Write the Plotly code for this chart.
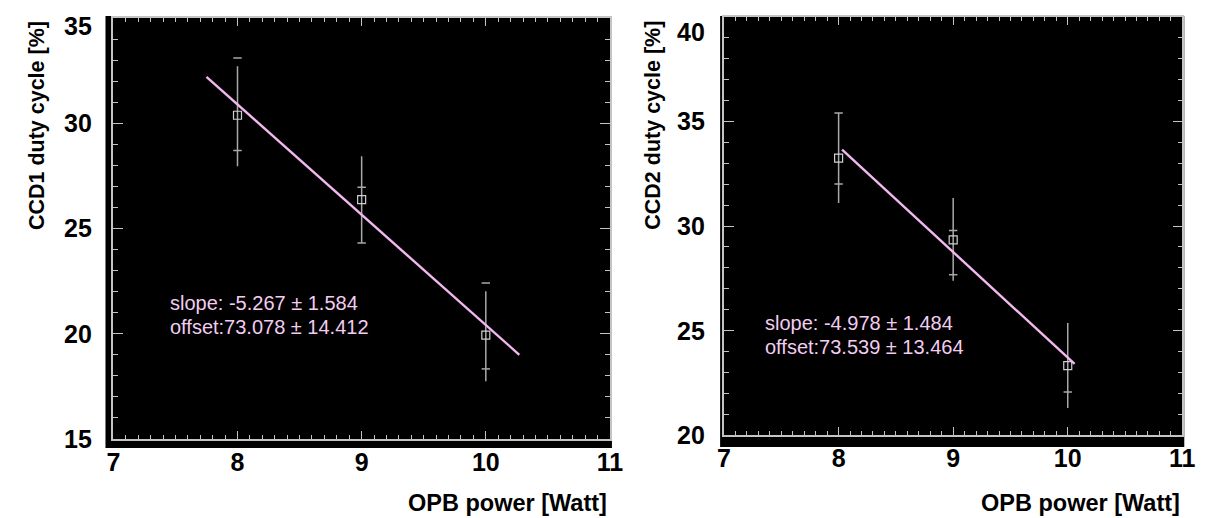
import plotly.graph_objects as go

# ---------------- data ----------------
power = [8, 9, 10]

ccd1 = [30.38, 26.37, 19.93]
ccd1_err_hi = [32.71, 28.43, 22.02]
ccd1_err_lo = [27.96, 24.31, 17.74]
ccd1_mark_x = [8, 8, 9, 9, 10, 10]
ccd1_mark_y = [33.10, 28.70, 26.96, 24.31, 22.41, 18.33]
fit1_x = [7.75, 10.27]
fit1_y = [32.2, 19.0]
fit1_text = ["slope: -5.267 \u00b1 1.584", "offset:73.078 \u00b1 14.412"]

ccd2 = [33.25, 29.34, 23.32]
ccd2_err_hi = [35.41, 31.34, 25.36]
ccd2_err_lo = [31.10, 27.38, 21.29]
ccd2_mark_x = [8, 8, 9, 9, 10]
ccd2_mark_y = [35.41, 32.01, 29.78, 27.67, 22.06]
fit2_x = [8.03, 10.06]
fit2_y = [33.65, 23.4]
fit2_text = ["slope: -4.978 \u00b1 1.484", "offset:73.539 \u00b1 13.464"]

x_ticks = [7, 8, 9, 10, 11]
y1_ticks = [15, 20, 25, 30, 35]
y2_ticks = [20, 25, 30, 35, 40]

# ---------------- figure ----------------
W, H = 1206, 518
def px(v):
    return v / W
def py(v):
    return 1 - v / H

FIT_COL = "#f3b8ef"
TXT_COL = "#f2cdf0"
BAR_COL = "#a9a9a9"
MK_COL = "#cfcfcf"
FRAME = "#c4c4c4"
FONT = "Liberation Sans"

fig = go.Figure()

panels = [
    dict(xa="x", ya="y", y=ccd1, hi=ccd1_err_hi, lo=ccd1_err_lo, mx=ccd1_mark_x, my=ccd1_mark_y,
         fx=fit1_x, fy=fit1_y),
    dict(xa="x2", ya="y2", y=ccd2, hi=ccd2_err_hi, lo=ccd2_err_lo, mx=ccd2_mark_x, my=ccd2_mark_y,
         fx=fit2_x, fy=fit2_y),
]
for p in panels:
    fig.add_trace(go.Scatter(
        x=power, y=p["y"], mode="markers", xaxis=p["xa"], yaxis=p["ya"],
        marker=dict(symbol="square-open", size=8, color=MK_COL, line=dict(width=1.2, color=MK_COL)),
        error_y=dict(type="data", symmetric=False,
                     array=[h - v for h, v in zip(p["hi"], p["y"])],
                     arrayminus=[v - l for l, v in zip(p["lo"], p["y"])],
                     color=BAR_COL, thickness=1.5, width=0),
        showlegend=False, hoverinfo="skip"))
    fig.add_trace(go.Scatter(
        x=p["mx"], y=p["my"], mode="markers", xaxis=p["xa"], yaxis=p["ya"],
        marker=dict(symbol="line-ew", size=6, color=BAR_COL, line=dict(width=1.5, color=BAR_COL)),
        showlegend=False, hoverinfo="skip"))
    fig.add_trace(go.Scatter(
        x=p["fx"], y=p["fy"], mode="lines", xaxis=p["xa"], yaxis=p["ya"],
        line=dict(color=FIT_COL, width=2.4), showlegend=False, hoverinfo="skip"))

axis_common = dict(
    showline=True, linecolor=FRAME, linewidth=1.5, mirror="ticks",
    ticks="inside", tickcolor=FRAME, tickwidth=1.2, showgrid=False, zeroline=False,
    fixedrange=True,
)

tick_font = dict(family=FONT, size=25, color="black", weight="bold")

fig.update_layout(
    width=W, height=H,
    margin=dict(l=0, r=0, t=0, b=0),
    paper_bgcolor="white", plot_bgcolor="black",
    xaxis=dict(domain=[px(100), px(605)], range=[7, 11], tickvals=x_ticks, ticklen=8,
               minor=dict(dtick=0.1, ticklen=4, tickcolor=FRAME, ticks="inside"),
               tickfont=tick_font, anchor="y", **axis_common),
    yaxis=dict(domain=[py(431), py(10)], range=[15, 35], tickvals=y1_ticks, ticklen=10,
               showticklabels=False,
               minor=dict(dtick=1, ticklen=5, tickcolor=FRAME, ticks="inside"),
               anchor="x", **axis_common),
    xaxis2=dict(domain=[px(721), px(1187)], range=[7, 11], tickvals=x_ticks, ticklen=8,
                minor=dict(dtick=0.1, ticklen=4, tickcolor=FRAME, ticks="inside"),
                tickfont=tick_font, anchor="y2", **axis_common),
    yaxis2=dict(domain=[py(427), py(9)], range=[20, 40], tickvals=y2_ticks, ticklen=10,
                showticklabels=False,
                minor=dict(dtick=1, ticklen=5, tickcolor=FRAME, ticks="inside"),
                anchor="x2", **axis_common),
)

# black panel backgrounds extending slightly beyond the frames
fig.add_shape(type="rect", xref="paper", yref="paper", layer="below",
              x0=px(92), x1=px(607), y0=py(440), y1=py(8), fillcolor="black", line_width=0)
fig.add_shape(type="rect", xref="paper", yref="paper", layer="below",
              x0=px(717), x1=px(1189), y0=py(439), y1=py(8), fillcolor="black", line_width=0)

# y tick labels
for ticks, yref, xr, top_shift in [(y1_ticks, "y", 80, -8), (y2_ticks, "y2", 704, -15)]:
    for i, t in enumerate(ticks):
        fig.add_annotation(x=px(xr), xref="paper", y=t, yref=yref, text=str(t),
                           showarrow=False, xanchor="right", yanchor="middle",
                           yshift=top_shift if i == len(ticks) - 1 else 0, font=tick_font)

# axis titles
xt_font = dict(family=FONT, size=23.5, color="black", weight="bold")
yt_font = dict(family=FONT, size=21.5, color="black", weight="bold")
for xr in [604, 1187]:
    fig.add_annotation(x=px(xr), xref="paper", y=py(495), yref="paper", text="OPB power [Watt]",
                       showarrow=False, xanchor="right", yanchor="middle", font=xt_font)
for xr, txt in [(23, "CCD1 duty cycle [%]"), (649, "CCD2 duty cycle [%]")]:
    fig.add_annotation(x=px(xr), xref="paper", y=py(11), yref="paper", text=txt, textangle=-90,
                       showarrow=False, xanchor="center", yanchor="top", font=yt_font)

# fit annotations
for (x0, y0), lines in [((156, 295), fit1_text), ((761, 315), fit2_text)]:
    for k, line in enumerate(lines):
        fig.add_annotation(x=px(x0), xref="paper", y=py(y0 + 24 * k), yref="paper", text=line,
                           showarrow=False, xanchor="left", yanchor="middle",
                           font=dict(family=FONT, size=20, color=TXT_COL))

fig.write_html("out.html")
